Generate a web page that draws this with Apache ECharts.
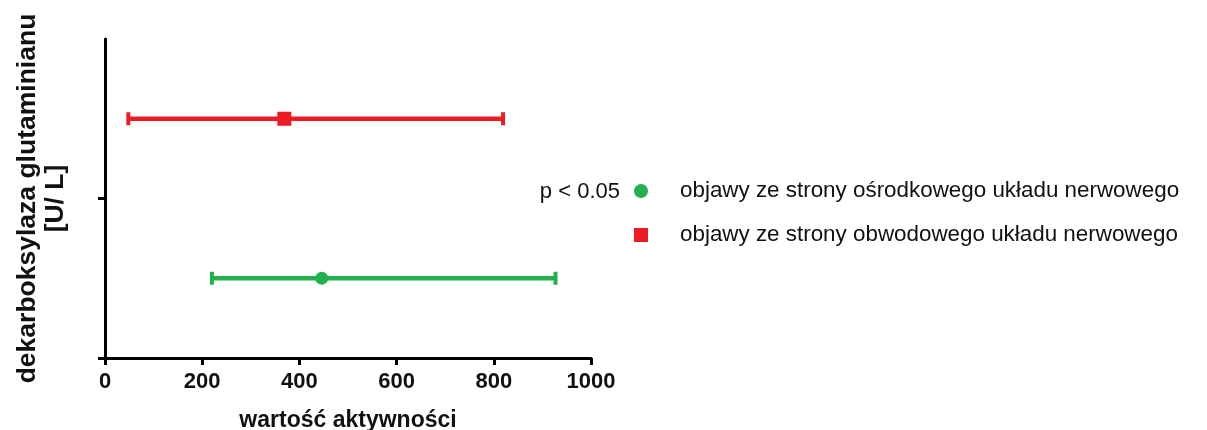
<!DOCTYPE html>
<html>
<head>
<meta charset="utf-8">
<script src="https://cdn.jsdelivr.net/npm/echarts@6/dist/echarts.min.js"></script>
<style>
  html, body { margin: 0; padding: 0; background: #ffffff; }
  #chart { width: 1207px; height: 430px; }
</style>
</head>
<body>
<div id="chart"></div>
<script>
// ---- data ----
const groups = ['objawy ze strony ośrodkowego układu nerwowego', 'objawy ze strony obwodowego układu nerwowego'];
const means = [446, 369];
const lowerBounds = [220, 48];
const upperBounds = [927, 819];
const xTickValues = [0, 200, 400, 600, 800, 1000];
const xAxisTitle = 'wartość aktywności';
const yAxisTitle = 'dekarboksylaza glutaminianu\n[U/ L]';
const significanceNote = 'p < 0.05';

// ---- styles ----
const colors = ['#22b14c', '#ed1c24'];
const symbols = ['circle', 'rect'];
const symbolSizes = [13, 14];
const FONT = '"Liberation Sans", Arial, Helvetica, sans-serif';

const chart = echarts.init(document.getElementById('chart'), null, { renderer: 'canvas' });

const series = [];
groups.forEach((g, i) => {
  const yPos = i + 0.5;
  series.push({
    type: 'custom',
    name: g,
    itemStyle: { color: colors[i] },
    data: [[lowerBounds[i], upperBounds[i], yPos]],
    renderItem: function (params, api) {
      const y = api.value(2);
      const p1 = api.coord([api.value(0), y]);
      const p2 = api.coord([api.value(1), y]);
      const h = 6.5;
      return {
        type: 'group',
        children: [
          { type: 'line', shape: { x1: p1[0], y1: p1[1], x2: p2[0], y2: p2[1] }, style: { stroke: colors[i], lineWidth: 4.5 } },
          { type: 'line', shape: { x1: p1[0], y1: p1[1] - h, x2: p1[0], y2: p1[1] + h }, style: { stroke: colors[i], lineWidth: 4 } },
          { type: 'line', shape: { x1: p2[0], y1: p2[1] - h, x2: p2[0], y2: p2[1] + h }, style: { stroke: colors[i], lineWidth: 4 } }
        ]
      };
    },
    z: 2
  });
  series.push({
    type: 'scatter',
    name: g,
    symbol: symbols[i],
    symbolSize: symbolSizes[i],
    itemStyle: { color: colors[i], opacity: 1 },
    data: [[means[i], yPos]],
    z: 3
  });
});

const option = {
  backgroundColor: '#ffffff',
  animation: false,
  textStyle: { fontFamily: FONT },
  grid: { left: 105, right: 616, top: 39, bottom: 72, containLabel: false, outerBoundsMode: 'none' },
  xAxis: {
    type: 'value',
    min: xTickValues[0],
    max: xTickValues[xTickValues.length - 1],
    interval: xTickValues[1] - xTickValues[0],
    name: xAxisTitle,
    nameLocation: 'middle',
    nameGap: 51,
    nameTextStyle: { fontFamily: FONT, fontSize: 23, fontWeight: 'bold', color: '#111' },
    axisLine: { show: true, lineStyle: { color: '#000', width: 3 } },
    axisTick: { show: true, length: 7, lineStyle: { color: '#000', width: 3 } },
    axisLabel: { fontFamily: FONT, fontSize: 22, fontWeight: 'bold', color: '#111', margin: 13, formatter: v => String(v) },
    splitLine: { show: false }
  },
  yAxis: {
    type: 'value',
    min: 0,
    max: groups.length,
    interval: 1,
    name: yAxisTitle,
    nameLocation: 'middle',
    nameRotate: 90,
    nameGap: 35,
    nameTextStyle: { fontFamily: FONT, fontSize: 26.5, fontWeight: 'bold', color: '#111', lineHeight: 28, align: 'center' },
    axisLine: { show: true, lineStyle: { color: '#000', width: 3 } },
    axisTick: { show: true, length: 7, customValues: [0, 1], lineStyle: { color: '#000', width: 3 } },
    axisLabel: { show: false },
    splitLine: { show: false }
  },
  legend: {
    orient: 'vertical',
    left: 634,
    top: 180,
    padding: 0,
    itemWidth: 14,
    itemHeight: 14,
    itemGap: 22,
    selectedMode: false,
    textStyle: { fontFamily: FONT, fontSize: 22.4, color: '#111', padding: [0, 0, 0, 27] },
    data: groups.map((g, i) => ({ name: g, icon: symbols[i] }))
  },
  graphic: [{
    type: 'text',
    right: 1207 - 620,
    top: 181,
    style: { text: significanceNote, font: '22px ' + FONT, fill: '#111', align: 'right' }
  }],
  series: series
};

chart.setOption(option);
</script>
</body>
</html>
